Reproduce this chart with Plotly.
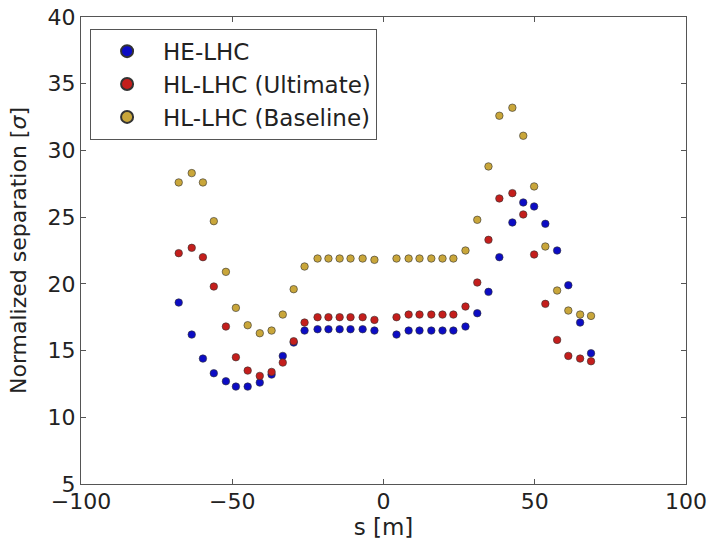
import plotly.graph_objects as go

s_m = [-67.7, -63.4, -59.7, -56.1, -52.1, -48.8, -44.9, -40.9, -37.0, -33.3, -29.7, -26.1,
       -21.8, -18.2, -14.5, -10.9, -6.9, -3.0,
       4.3, 8.3, 11.9, 15.8, 19.5, 23.1, 27.1, 31.0, 34.7, 38.3, 42.6, 46.2, 49.8, 53.5,
       57.4, 61.1, 65.0, 68.6]

he_lhc = [18.6, 16.2, 14.4, 13.3, 12.7, 12.3, 12.3, 12.6, 13.2, 14.6, 15.6, 16.5,
          16.6, 16.6, 16.6, 16.6, 16.6, 16.5,
          16.2, 16.5, 16.5, 16.5, 16.5, 16.5, 16.8, 17.8, 19.4, 22.0, 24.6, 26.1, 25.8, 24.5,
          22.5, 19.9, 17.1, 14.8]

hl_ultimate = [22.3, 22.7, 22.0, 19.8, 16.8, 14.5, 13.5, 13.1, 13.4, 14.1, 15.7, 17.1,
               17.5, 17.5, 17.5, 17.5, 17.5, 17.3,
               17.5, 17.7, 17.7, 17.7, 17.7, 17.7, 18.3, 20.1, 23.3, 26.4, 26.8, 25.2, 22.2, 18.5,
               15.8, 14.6, 14.4, 14.2]

hl_baseline = [27.6, 28.3, 27.6, 24.7, 20.9, 18.2, 16.9, 16.3, 16.5, 17.7, 19.6, 21.3,
               21.9, 21.9, 21.9, 21.9, 21.9, 21.8,
               21.9, 21.9, 21.9, 21.9, 21.9, 21.9, 22.5, 24.8, 28.8, 32.6, 33.2, 31.1, 27.3, 22.8,
               19.5, 18.0, 17.7, 17.6]

series_names = ["HE-LHC", "HL-LHC (Ultimate)", "HL-LHC (Baseline)"]
series_values = [he_lhc, hl_ultimate, hl_baseline]
colors = ["#0c0cc4", "#c41e1c", "#c9a63a"]

x_ticks = [-100, -50, 0, 50, 100]
x_tick_labels = ["\u2212100", "\u221250", "0", "50", "100"]
y_ticks = [5, 10, 15, 20, 25, 30, 35, 40]

fig = go.Figure()
for name, vals, col in zip(series_names, series_values, colors):
    fig.add_trace(go.Scatter(
        x=s_m, y=vals, mode="markers", name=name,
        marker=dict(size=7.5, color=col, line=dict(color="#333333", width=0.6)),
    ))

font_family = "DejaVu Sans"
axis_common = dict(
    showgrid=False, zeroline=False, showline=True, linecolor="#555555", linewidth=1.2,
    mirror="allticks", ticks="inside", ticklen=5, tickcolor="#555555",
    tickfont=dict(family=font_family, size=22, color="#222222"),
    automargin=False,
)

fig.update_layout(
    width=714, height=547,
    margin=dict(l=81, r=28, t=17, b=63),
    paper_bgcolor="white", plot_bgcolor="white",
    font=dict(family=font_family, color="#222222"),
    showlegend=True,
    legend=dict(
        x=0.015, y=0.975, xanchor="left", yanchor="top",
        bgcolor="white", bordercolor="#555555", borderwidth=1,
        font=dict(family=font_family, size=23, color="#222222"),
        itemsizing="constant", itemwidth=62,
    ),
    xaxis=dict(range=[-100, 100], tickvals=x_ticks, ticktext=x_tick_labels,
               ticklabelstandoff=-3,
               title=dict(text="s [m]", font=dict(family=font_family, size=23), standoff=6),
               **axis_common),
    yaxis=dict(range=[5, 40], tickvals=y_ticks,
               title=dict(text="Normalized separation [<i>σ</i>]",
                          font=dict(family=font_family, size=22), standoff=14),
               **axis_common),
)

fig.write_html("out.html", config={"displayModeBar": False},
               post_script="document.body.style.margin='0px';")
